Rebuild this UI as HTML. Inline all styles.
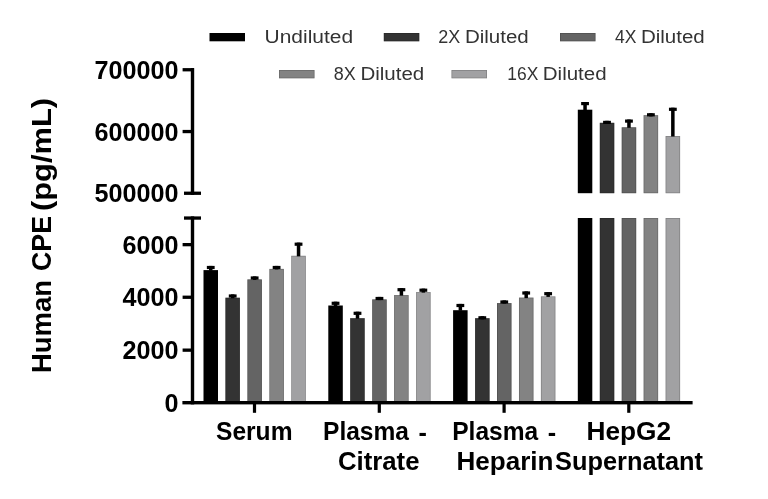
<!DOCTYPE html>
<html><head><meta charset="utf-8"><title>Human CPE</title>
<style>
html,body{margin:0;padding:0;background:#fff;}
svg{display:block}
text{font-family:"Liberation Sans",sans-serif;}
.b{font-weight:bold;fill:#000}
.l{fill:#333}
</style></head><body>
<svg width="768" height="499" viewBox="0 0 768 499">
<rect width="768" height="499" fill="#fff"/>
<!-- legend -->
<g>
<rect x="209.5" y="33" width="35.5" height="8.3" fill="#000000"/>
<rect x="383.8" y="33" width="35.5" height="8.3" fill="#333333"/>
<rect x="384.15" y="33.35" width="34.80" height="7.60" fill="none" stroke="#000" stroke-opacity="0.22" stroke-width="0.7"/>
<rect x="560" y="33" width="35.5" height="8.3" fill="#646464"/>
<rect x="560.35" y="33.35" width="34.80" height="7.60" fill="none" stroke="#000" stroke-opacity="0.22" stroke-width="0.7"/>
<rect x="279" y="70" width="35.5" height="8.3" fill="#838383"/>
<rect x="279.35" y="70.35" width="34.80" height="7.60" fill="none" stroke="#000" stroke-opacity="0.22" stroke-width="0.7"/>
<rect x="451.5" y="70" width="35.5" height="8.3" fill="#a1a1a3"/>
<rect x="451.85" y="70.35" width="34.80" height="7.60" fill="none" stroke="#000" stroke-opacity="0.22" stroke-width="0.7"/>
<g class="l" font-size="19.2">
<text x="264.6" y="43.3" textLength="88.5" lengthAdjust="spacingAndGlyphs">Undiluted</text>
<text x="438.3" y="43.3" textLength="22" lengthAdjust="spacingAndGlyphs">2X</text>
<text x="464.9" y="43.3" textLength="63.8" lengthAdjust="spacingAndGlyphs">Diluted</text>
<text x="615" y="43.3" textLength="21.4" lengthAdjust="spacingAndGlyphs">4X</text>
<text x="640.9" y="43.3" textLength="63.8" lengthAdjust="spacingAndGlyphs">Diluted</text>
<text x="333.7" y="80.4" textLength="22" lengthAdjust="spacingAndGlyphs">8X</text>
<text x="360.4" y="80.4" textLength="63.8" lengthAdjust="spacingAndGlyphs">Diluted</text>
<text x="507.3" y="80.4" textLength="31" lengthAdjust="spacingAndGlyphs">16X</text>
<text x="542.8" y="80.4" textLength="63.8" lengthAdjust="spacingAndGlyphs">Diluted</text>
</g>
</g>
<!-- bars -->
<g shape-rendering="auto">
<rect x="203.5" y="270.1" width="14.5" height="132.4" fill="#000000"/>
<rect x="209.00" y="265.9" width="3.5" height="4.7" fill="#000"/>
<rect x="206.85" y="265.9" width="7.8" height="3.2" fill="#000"/>
<rect x="225.4" y="297.7" width="14.5" height="104.8" fill="#333333"/>
<rect x="225.80" y="298.05" width="13.80" height="104.10" fill="none" stroke="#000" stroke-opacity="0.22" stroke-width="0.7"/>
<rect x="230.95" y="294.4" width="3.5" height="3.8" fill="#000"/>
<rect x="228.80" y="294.4" width="7.8" height="3.2" fill="#000"/>
<rect x="247.4" y="279.4" width="14.5" height="123.1" fill="#646464"/>
<rect x="247.75" y="279.75" width="13.80" height="122.40" fill="none" stroke="#000" stroke-opacity="0.22" stroke-width="0.7"/>
<rect x="252.90" y="276.4" width="3.5" height="3.5" fill="#000"/>
<rect x="250.75" y="276.4" width="7.8" height="3.2" fill="#000"/>
<rect x="269.4" y="268.9" width="14.5" height="133.6" fill="#838383"/>
<rect x="269.70" y="269.25" width="13.80" height="132.90" fill="none" stroke="#000" stroke-opacity="0.22" stroke-width="0.7"/>
<rect x="274.85" y="265.9" width="3.5" height="3.5" fill="#000"/>
<rect x="272.70" y="265.9" width="7.8" height="3.2" fill="#000"/>
<rect x="291.3" y="255.8" width="14.5" height="146.7" fill="#a1a1a3"/>
<rect x="291.65" y="256.15" width="13.80" height="146.00" fill="none" stroke="#000" stroke-opacity="0.22" stroke-width="0.7"/>
<rect x="296.80" y="242.6" width="3.5" height="13.7" fill="#000"/>
<rect x="294.65" y="242.6" width="7.8" height="3.2" fill="#000"/>
<rect x="328.3" y="305.5" width="14.5" height="97.0" fill="#000000"/>
<rect x="333.80" y="301.7" width="3.5" height="4.3" fill="#000"/>
<rect x="331.65" y="301.7" width="7.8" height="3.2" fill="#000"/>
<rect x="350.2" y="318.2" width="14.5" height="84.3" fill="#333333"/>
<rect x="350.60" y="318.55" width="13.80" height="83.60" fill="none" stroke="#000" stroke-opacity="0.22" stroke-width="0.7"/>
<rect x="355.75" y="311.7" width="3.5" height="7.0" fill="#000"/>
<rect x="353.60" y="311.7" width="7.8" height="3.2" fill="#000"/>
<rect x="372.2" y="299.4" width="14.5" height="103.1" fill="#646464"/>
<rect x="372.55" y="299.75" width="13.80" height="102.40" fill="none" stroke="#000" stroke-opacity="0.22" stroke-width="0.7"/>
<rect x="377.70" y="296.9" width="3.5" height="3.2" fill="#000"/>
<rect x="375.55" y="296.9" width="7.8" height="3.2" fill="#000"/>
<rect x="394.1" y="295.1" width="14.5" height="107.4" fill="#838383"/>
<rect x="394.50" y="295.45" width="13.80" height="106.70" fill="none" stroke="#000" stroke-opacity="0.22" stroke-width="0.7"/>
<rect x="399.65" y="288.1" width="3.5" height="7.5" fill="#000"/>
<rect x="397.50" y="288.1" width="7.8" height="3.2" fill="#000"/>
<rect x="416.1" y="292.1" width="14.5" height="110.4" fill="#a1a1a3"/>
<rect x="416.45" y="292.45" width="13.80" height="109.70" fill="none" stroke="#000" stroke-opacity="0.22" stroke-width="0.7"/>
<rect x="421.60" y="288.6" width="3.5" height="4.0" fill="#000"/>
<rect x="419.45" y="288.6" width="7.8" height="3.2" fill="#000"/>
<rect x="453.1" y="310.2" width="14.5" height="92.3" fill="#000000"/>
<rect x="458.60" y="303.9" width="3.5" height="6.8" fill="#000"/>
<rect x="456.45" y="303.9" width="7.8" height="3.2" fill="#000"/>
<rect x="475.1" y="318.2" width="14.5" height="84.3" fill="#333333"/>
<rect x="475.40" y="318.55" width="13.80" height="83.60" fill="none" stroke="#000" stroke-opacity="0.22" stroke-width="0.7"/>
<rect x="480.55" y="316.2" width="3.5" height="3.2" fill="#000"/>
<rect x="478.40" y="316.2" width="7.8" height="3.2" fill="#000"/>
<rect x="497.0" y="303.1" width="14.5" height="99.4" fill="#646464"/>
<rect x="497.35" y="303.45" width="13.80" height="98.70" fill="none" stroke="#000" stroke-opacity="0.22" stroke-width="0.7"/>
<rect x="502.50" y="300.4" width="3.5" height="3.2" fill="#000"/>
<rect x="500.35" y="300.4" width="7.8" height="3.2" fill="#000"/>
<rect x="519.0" y="297.6" width="14.5" height="104.9" fill="#838383"/>
<rect x="519.30" y="297.95" width="13.80" height="104.20" fill="none" stroke="#000" stroke-opacity="0.22" stroke-width="0.7"/>
<rect x="524.45" y="291.4" width="3.5" height="6.7" fill="#000"/>
<rect x="522.30" y="291.4" width="7.8" height="3.2" fill="#000"/>
<rect x="540.9" y="296.4" width="14.5" height="106.1" fill="#a1a1a3"/>
<rect x="541.25" y="296.75" width="13.80" height="105.40" fill="none" stroke="#000" stroke-opacity="0.22" stroke-width="0.7"/>
<rect x="546.40" y="292.1" width="3.5" height="4.8" fill="#000"/>
<rect x="544.25" y="292.1" width="7.8" height="3.2" fill="#000"/>
<rect x="577.8" y="218.0" width="14.5" height="184.5" fill="#000000"/>
<rect x="577.8" y="109.7" width="14.5" height="83.5" fill="#000000"/>
<rect x="583.30" y="102.0" width="3.5" height="8.2" fill="#000"/>
<rect x="581.15" y="102.0" width="7.8" height="3.2" fill="#000"/>
<rect x="599.8" y="218.0" width="14.5" height="184.5" fill="#333333"/>
<rect x="600.10" y="218.35" width="13.80" height="183.80" fill="none" stroke="#000" stroke-opacity="0.22" stroke-width="0.7"/>
<rect x="599.8" y="122.8" width="14.5" height="70.4" fill="#333333"/>
<rect x="600.10" y="123.15" width="13.80" height="69.70" fill="none" stroke="#000" stroke-opacity="0.22" stroke-width="0.7"/>
<rect x="605.25" y="120.8" width="3.5" height="3.2" fill="#000"/>
<rect x="603.10" y="120.8" width="7.8" height="3.2" fill="#000"/>
<rect x="621.7" y="218.0" width="14.5" height="184.5" fill="#646464"/>
<rect x="622.05" y="218.35" width="13.80" height="183.80" fill="none" stroke="#000" stroke-opacity="0.22" stroke-width="0.7"/>
<rect x="621.7" y="127.3" width="14.5" height="65.9" fill="#646464"/>
<rect x="622.05" y="127.65" width="13.80" height="65.20" fill="none" stroke="#000" stroke-opacity="0.22" stroke-width="0.7"/>
<rect x="627.20" y="119.5" width="3.5" height="8.3" fill="#000"/>
<rect x="625.05" y="119.5" width="7.8" height="3.2" fill="#000"/>
<rect x="643.6" y="218.0" width="14.5" height="184.5" fill="#838383"/>
<rect x="644.00" y="218.35" width="13.80" height="183.80" fill="none" stroke="#000" stroke-opacity="0.22" stroke-width="0.7"/>
<rect x="643.6" y="115.2" width="14.5" height="78.0" fill="#838383"/>
<rect x="644.00" y="115.55" width="13.80" height="77.30" fill="none" stroke="#000" stroke-opacity="0.22" stroke-width="0.7"/>
<rect x="649.15" y="113.2" width="3.5" height="3.2" fill="#000"/>
<rect x="647.00" y="113.2" width="7.8" height="3.2" fill="#000"/>
<rect x="665.6" y="218.0" width="14.5" height="184.5" fill="#a1a1a3"/>
<rect x="665.95" y="218.35" width="13.80" height="183.80" fill="none" stroke="#000" stroke-opacity="0.22" stroke-width="0.7"/>
<rect x="665.6" y="136.0" width="14.5" height="57.2" fill="#a1a1a3"/>
<rect x="665.95" y="136.35" width="13.80" height="56.50" fill="none" stroke="#000" stroke-opacity="0.22" stroke-width="0.7"/>
<rect x="671.10" y="107.7" width="3.5" height="28.8" fill="#000"/>
<rect x="668.95" y="107.7" width="7.8" height="3.2" fill="#000"/>
</g>
<!-- axes -->
<g fill="#000">
<rect x="190.8" y="68.1" width="3.4" height="126.8"/>
<rect x="182.6" y="68.1" width="11.4" height="3.3"/>
<rect x="182.6" y="129.9" width="11.4" height="3.3"/>
<rect x="184" y="191.6" width="17" height="3.3"/>
<rect x="190.8" y="216.4" width="3.4" height="188"/>
<rect x="184" y="216.4" width="17" height="3.3"/>
<rect x="182.6" y="243" width="11.4" height="3.3"/>
<rect x="182.6" y="295.6" width="11.4" height="3.3"/>
<rect x="182.6" y="348.5" width="11.4" height="3.3"/>
<rect x="182.4" y="401" width="510.2" height="3.4"/>
<rect x="252.9" y="402" width="3.2" height="10.8"/>
<rect x="377.7" y="402" width="3.2" height="10.8"/>
<rect x="502.5" y="402" width="3.2" height="10.8"/>
<rect x="627.2" y="402" width="3.2" height="10.8"/>
</g>
<!-- y tick labels -->
<g class="b" font-size="25" text-anchor="end">
<text x="178.6" y="79.2" textLength="84" lengthAdjust="spacingAndGlyphs">700000</text>
<text x="178.6" y="140.6" textLength="84" lengthAdjust="spacingAndGlyphs">600000</text>
<text x="178.6" y="202.4" textLength="84" lengthAdjust="spacingAndGlyphs">500000</text>
<text x="178.6" y="253.6" textLength="56" lengthAdjust="spacingAndGlyphs">6000</text>
<text x="178.6" y="306.1" textLength="56" lengthAdjust="spacingAndGlyphs">4000</text>
<text x="178.6" y="359.1" textLength="56" lengthAdjust="spacingAndGlyphs">2000</text>
<text x="178.6" y="411.8" textLength="14" lengthAdjust="spacingAndGlyphs">0</text>
</g>
<!-- x labels -->
<g class="b" font-size="25.2">
<text x="216" y="440" textLength="76.5" lengthAdjust="spacingAndGlyphs">Serum</text>
<text x="323" y="440" textLength="86" lengthAdjust="spacingAndGlyphs">Plasma</text>
<text x="418.6" y="441.1" textLength="8.4" lengthAdjust="spacingAndGlyphs">-</text>
<text x="338" y="470" textLength="81.5" lengthAdjust="spacingAndGlyphs">Citrate</text>
<text x="452.2" y="440" textLength="86" lengthAdjust="spacingAndGlyphs">Plasma</text>
<text x="547.7" y="441.1" textLength="8.4" lengthAdjust="spacingAndGlyphs">-</text>
<text x="456.5" y="470" textLength="97" lengthAdjust="spacingAndGlyphs">Heparin</text>
<text x="586.5" y="440" textLength="84.5" lengthAdjust="spacingAndGlyphs">HepG2</text>
<text x="555" y="470" textLength="148" lengthAdjust="spacingAndGlyphs">Supernatant</text>
</g>
<!-- y title -->
<g class="b" font-size="28.3" transform="translate(51.4,0) rotate(-90)">
<text x="-373" textLength="93" lengthAdjust="spacingAndGlyphs">Human</text>
<text x="-271" textLength="55" lengthAdjust="spacingAndGlyphs">CPE</text>
<text x="-211" textLength="113" lengthAdjust="spacingAndGlyphs">(pg/mL)</text>
</g>
</svg>
</body></html>
